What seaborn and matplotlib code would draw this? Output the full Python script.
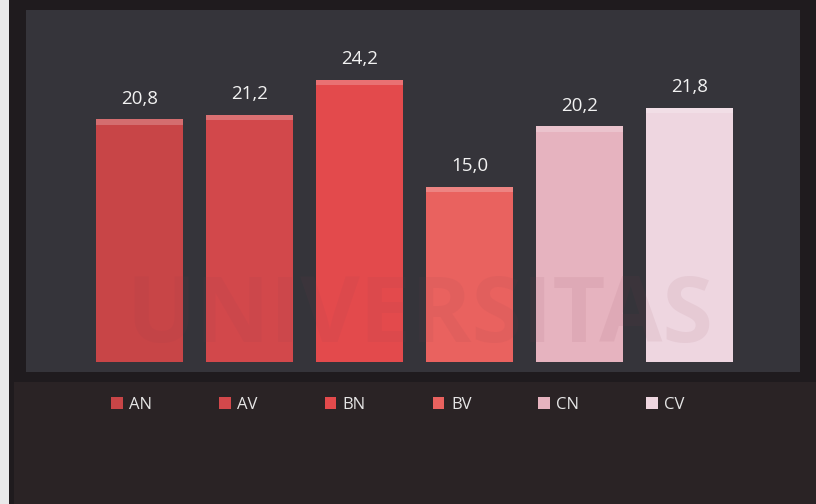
import matplotlib
matplotlib.use("Agg")
import matplotlib.pyplot as plt
from matplotlib.patches import Rectangle, Patch
import seaborn as sns
import pandas as pd

# Data
categories = ["AN", "AV", "BN", "BV", "CN", "CV"]
values = [20.8, 21.2, 24.2, 15.0, 20.2, 21.8]
colors = ["#c84547", "#d2484b", "#e34a4c", "#e9625f", "#e6b3bf", "#eed6e0"]

df = pd.DataFrame({"cat": categories, "val": values})

sns.set_theme(style="white")
plt.rcParams["font.family"] = ["Open Sans", "DejaVu Sans"]

W, H = 816, 504
fig = plt.figure(figsize=(W / 100, H / 100), dpi=100)
fig.patch.set_facecolor("#1c1a1d")

def px_rect(x0, y0, x1, y1, color, z=0):
    fig.add_artist(Rectangle((x0 / W, 1 - y1 / H), (x1 - x0) / W, (y1 - y0) / H,
                             transform=fig.transFigure, facecolor=color,
                             edgecolor="none", zorder=z))

# backdrop: panel, lower band, bright left strip
px_rect(0, 0, W, H, "#1f1b1e", z=-3)
px_rect(26, 10, 800, 372, "#35343a", z=-2)
px_rect(14, 382, W, H, "#2a2325", z=-2)
px_rect(0, 0, 9, H, "#e9e9ea", z=-1)

ax = fig.add_axes([84.5 / W, 142 / H, 660 / W, 350 / H])
ax.set_facecolor("none")

sns.barplot(data=df, x="cat", y="val", hue="cat", palette=colors,
            width=0.79, legend=False, ax=ax, saturation=1, edgecolor="none")

# lighter bevel along the top of each bar
for i, v in enumerate(values):
    ax.bar(i, 0.45, bottom=v - 0.45, width=0.79, color="white", alpha=0.22,
           edgecolor="none", zorder=3)
    ax.text(i, v + 1.0, f"{v:.1f}".replace(".", ","), ha="center", va="bottom",
            color="#f2f2f2", fontsize=13.5)

ax.set_xlim(-0.5, len(categories) - 0.5)
ax.set_ylim(0, 30)
ax.set_xticks([])
ax.set_yticks([])
ax.set_xlabel("")
ax.set_ylabel("")
for s in ax.spines.values():
    s.set_visible(False)

# faint large lettering behind the bars
fig.text(420 / W, 1 - 318 / H, "UNIVERSITAS", ha="center", va="center",
         fontsize=66, fontweight="bold", color="#8a4050", alpha=0.08, zorder=5)

handles = [Patch(facecolor=c, edgecolor="none") for c in colors]
leg = fig.legend(handles, categories, loc="center", ncol=6,
                 bbox_to_anchor=(398 / W, 1 - 405 / H), frameon=False,
                 fontsize=12, handlelength=0.7, handleheight=0.7,
                 handletextpad=0.4, columnspacing=4.0)
for t in leg.get_texts():
    t.set_color("#e6e6e6")

fig.savefig("out.png", dpi=100, facecolor=fig.get_facecolor())
